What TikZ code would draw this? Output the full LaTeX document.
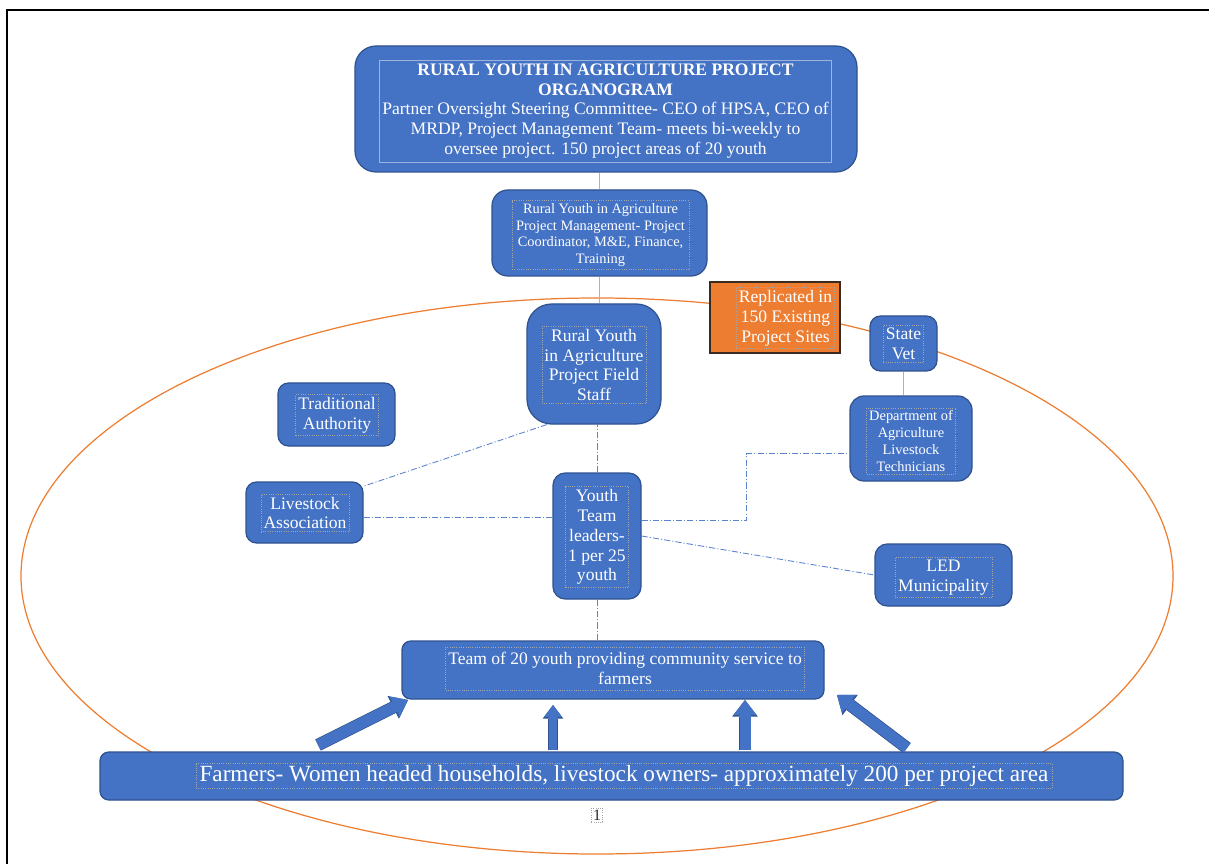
\documentclass[tikz,border=0pt]{standalone}
\usepackage{fontspec}
\setmainfont{Liberation Serif}
\usetikzlibrary{fit,arrows.meta}

\definecolor{boxblue}{HTML}{4472C4}
\definecolor{boxedge}{HTML}{2F528F}
\definecolor{linkblue}{HTML}{9DB3DE}
\definecolor{dashblue}{HTML}{5B84CF}
\definecolor{areaorange}{HTML}{ED7D31}
\definecolor{siteedge}{HTML}{3B2A20}
\definecolor{framegray}{HTML}{A6A6A6}

\tikzset{
  orgbox/.style={draw=boxedge, fill=boxblue, line width=0.7pt, inner sep=0pt, rounded corners=6pt},
  boxtext/.style={draw=framegray, densely dotted, line width=0.3pt, text=white, align=center,
    inner sep=1.5pt, font=\fontsize{10}{11.3}\selectfont},
  smalltext/.style={boxtext, font=\fontsize{8.2}{9.6}\selectfont},
  solidlink/.style={draw=linkblue, line width=0.6pt},
  dashlink/.style={draw=dashblue, line width=0.5pt, dash pattern=on 3.5pt off 1.2pt on 0.6pt off 1.2pt},
  fatarrow/.style={draw=boxblue, line width=0.22cm, -{Triangle[length=0.3cm, width=0.46cm, line width=0pt]},
    preaction={draw=boxedge, line width=0.25cm, -{Triangle[length=0.33cm, width=0.51cm, line width=0pt]}}},
  slimarrow/.style={draw=boxblue, line width=0.16cm, -{Triangle[length=0.24cm, width=0.36cm, line width=0pt]},
    preaction={draw=boxedge, line width=0.19cm, -{Triangle[length=0.27cm, width=0.41cm, line width=0pt]}}}
}

\begin{document}
\begin{tikzpicture}[x=0.02cm, y=-0.02cm]
  \useasboundingbox (0,0) rectangle (1209,864);

  % Page frame
  \draw[line width=1.1pt] (7,864) -- (7,10) -- (1209,10);

  % Project area
  \draw[areaorange, line width=0.7pt] (597,576) ellipse [x radius=576, y radius=278];

  % Oversight committee
  \node[orgbox, rounded corners=12pt, fit={(355,46) (857,172)}] (board) {};
  \node[boxtext, draw=linkblue, solid, minimum width=8.94cm, minimum height=2.04cm] at (605.5,111)
    {\textbf{RURAL YOUTH IN AGRICULTURE PROJECT}\\\textbf{ORGANOGRAM}\\
     Partner Oversight Steering Committee- CEO of HPSA, CEO of\\
     MRDP, Project Management Team- meets bi-weekly to\\
     oversee project. 150 project areas of 20 youth};

  % Project management
  \node[orgbox, rounded corners=9pt, fit={(492,190) (707,276)}] (mgmt) {};
  \node[smalltext, minimum width=3.54cm, minimum height=1.32cm] at (600.5,235)
    {Rural Youth in Agriculture\\Project Management- Project\\Coordinator, M\&E, Finance,\\Training};

  % Replicated sites
  \node[draw=siteedge, fill=areaorange, line width=0.6pt, inner sep=0pt, fit={(710,282) (840,353)}] (sites) {};
  \node[boxtext, minimum width=1.94cm, minimum height=1.2cm] at (785.5,318)
    {Replicated in\\150 Existing\\Project Sites};

  % Field staff
  \node[orgbox, rounded corners=14pt, fit={(527,304) (661,424)}] (field) {};
  \node[boxtext, minimum width=2.04cm, minimum height=1.52cm] at (594,365)
    {Rural Youth\\in Agriculture\\Project Field\\Staff};

  % State vet and technicians
  \node[orgbox, fit={(870,316) (937,371)}] (vet) {};
  \node[boxtext] at (903.5,344) {State\\Vet};
  \node[orgbox, rounded corners=8pt, fit={(850,396) (972,481)}] (dept) {};
  \node[smalltext] at (911,441) {Department of\\Agriculture\\Livestock\\Technicians};

  % Local partners
  \node[orgbox, fit={(278,383) (395,446)}] (trad) {};
  \node[boxtext] at (337,415) {Traditional\\Authority};
  \node[orgbox, fit={(246,482) (363,543)}] (assoc) {};
  \node[boxtext] at (305,513) {Livestock\\Association};
  \node[orgbox, rounded corners=7pt, fit={(875,544) (1012,606)}] (led) {};
  \node[boxtext, minimum width=1.94cm, minimum height=0.78cm] at (943.5,577.5) {LED\\Municipality};

  % Team leaders
  \node[orgbox, rounded corners=7pt, fit={(553,473) (641,599)}] (leaders) {};
  \node[boxtext] at (597,537) {Youth\\Team\\leaders-\\1 per 25\\youth};

  % Youth team and farmers
  \node[orgbox, rounded corners=5pt, fit={(402,641) (824,699)}] (team) {};
  \node[boxtext, minimum width=7.12cm, minimum height=0.86cm] at (625,668.5)
    {Team of 20 youth providing community service to\\farmers};
  \node[orgbox, rounded corners=5pt, fit={(100,752) (1123,800)}] (farm) {};
  \node[boxtext, font=\fontsize{13.2}{15}\selectfont, minimum width=17.12cm, minimum height=0.48cm, inner sep=1pt]
    at (624,776) {Farmers- Women headed households, livestock owners- approximately 200 per project area};
  \node[boxtext, text=black!85, font=\fontsize{9}{10}\selectfont, inner sep=1pt] (pagenum) at (597,815) {1};

  % Solid links
  \draw[solidlink] (mgmt.north) -- (mgmt.north |- board.south);
  \draw[solidlink] (mgmt.south) -- (mgmt.south |- field.north);
  \draw[solidlink] (vet.south) -- (vet.south |- dept.north);

  % Dash-dot links
  \draw[dashlink] (leaders.north) -- (leaders.north |- field.south);
  \draw[dashlink] (field.-128) -- (assoc.24);
  \draw[dashlink] (assoc.-5) -- (leaders.west |- assoc.-5);
  \draw[dashlink] (leaders.19) -- ++(105,0) |- (dept.194);
  \draw[dashlink] (leaders.east) -- (led.west);
  \draw[dashlink] (leaders.south) -- (leaders.south |- team.north);

  % Farmers feed the youth team
  \coordinate (farmA) at (318,745);
  \coordinate (teamA) at (408,700);
  \coordinate (farmB) at (553,750);
  \coordinate (teamB) at (553,705);
  \coordinate (farmC) at (745,750);
  \coordinate (teamC) at (745,700);
  \coordinate (farmD) at (907,748);
  \coordinate (teamD) at (837,695);
  \draw[fatarrow] (farmA) -- (teamA);
  \draw[slimarrow] (farmB) -- (teamB);
  \draw[fatarrow] (farmC) -- (teamC);
  \draw[fatarrow] (farmD) -- (teamD);

\end{tikzpicture}
\end{document}
